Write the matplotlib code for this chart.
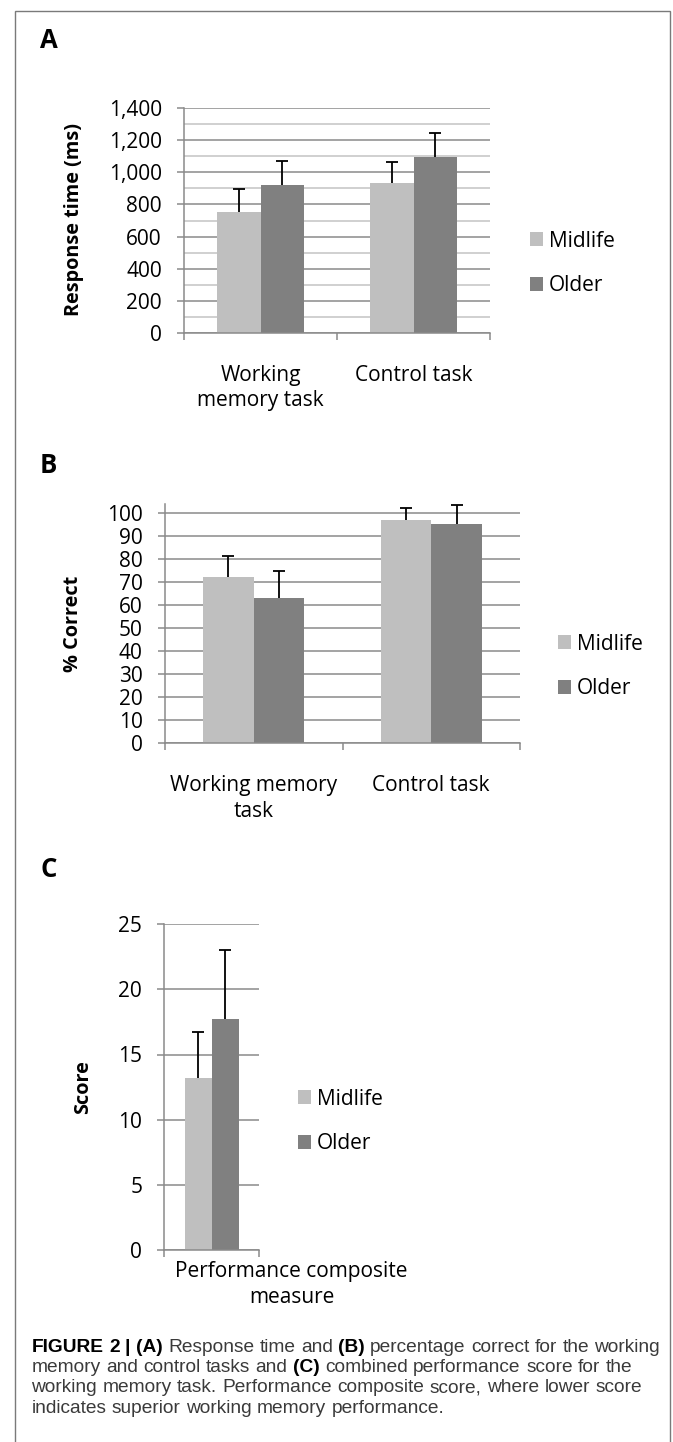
"""
Figure 2 re-draw: response time, % correct and composite score,
midlife vs older adults, as three Excel-style grouped bar panels.
"""

import numpy as np
import matplotlib
matplotlib.use("Agg")
import matplotlib.pyplot as plt
from matplotlib import font_manager
from matplotlib.patches import Rectangle
from matplotlib.ticker import MultipleLocator, FixedLocator, StrMethodFormatter
from matplotlib.transforms import ScaledTranslation

# ---- data ----
groups = ["Midlife", "Older"]

rt_tasks = ["Working\nmemory task", "Control task"]
rt_midlife = [755, 930]
rt_older = [920, 1095]
rt_midlife_err = [140, 136]
rt_older_err = [148, 151]

pc_tasks = ["Working memory\ntask", "Control task"]
pc_midlife = [72.2, 97.0]
pc_older = [63.1, 95.2]
pc_midlife_err = [8.9, 4.9]
pc_older_err = [11.6, 8.3]

sc_tasks = ["Performance composite\nmeasure"]
sc_midlife = [13.2]
sc_older = [17.75]
sc_midlife_err = [3.5]
sc_older_err = [5.25]

caption = [
    [("FIGURE 2 | (A)", True), ("Response time and", False), ("(B)", True),
     ("percentage correct for the working", False)],
    [("memory and control tasks and", False), ("(C)", True),
     ("combined performance score for the", False)],
    [("working memory task. Performance composite score, where lower score", False)],
    [("indicates superior working memory performance.", False)],
]

# ---- style ----
W, H = 673, 1442
MID_C, OLD_C = "#bfbfbf", "#808080"
GRID_C, MINOR_C = "#8a8a8a", "#c4c4c4"
FONT = "Open Sans"
TICK_FS = 15
plt.rcParams["font.family"] = [FONT, "DejaVu Sans"]


def has_font(name):
    try:
        font_manager.findfont(name, fallback_to_default=False)
        return True
    except Exception:
        return False


CAP_FONT = "Liberation Sans Narrow" if has_font("Liberation Sans Narrow") else "Liberation Sans"

fig = plt.figure(figsize=(W / 100, H / 100), dpi=100)


def fx(px):
    return px / W


def fy(py):
    return 1 - py / H


def add_bars(ax, xs, vals, errs, color, label, width):
    bars = ax.bar(xs, vals, width, color=color, label=label, zorder=2)
    # upper-only error bars with a single cap, like the Excel original
    tops = np.asarray(vals) + np.asarray(errs)
    ax.errorbar(xs, vals, yerr=[np.zeros(len(vals)), errs], fmt="none",
                ecolor="black", elinewidth=1.3, capsize=0, zorder=3)
    ax.plot(xs, tops, ls="none", marker="_", markersize=8, mew=1.3,
            color="black", zorder=3)
    return bars


def panel(rect, cats, mid, old, mid_err, old_err, ylim, major, minor=None,
          fmt=None, ylabel="", ylab_xy=(0, 0), leg_xy=(0, 0), lab_pad=16,
          lab_shift=0, width=0.285):
    left, top, right, bottom = rect
    ax = fig.add_axes([fx(left), fy(bottom), (right - left) / W, (bottom - top) / H])
    x = np.arange(len(cats))
    b1 = add_bars(ax, x - width / 2, mid, mid_err, MID_C, groups[0], width)
    b2 = add_bars(ax, x + width / 2, old, old_err, OLD_C, groups[1], width)
    ax.set_xlim(-0.5, len(cats) - 0.5)
    ax.set_ylim(*ylim)
    ax.set_axisbelow(True)
    ax.yaxis.set_major_locator(MultipleLocator(major))
    if minor:
        ax.yaxis.set_minor_locator(MultipleLocator(minor))
        ax.grid(axis="y", which="minor", color=MINOR_C, lw=1.1)
        ax.tick_params(axis="y", which="minor", length=0)
    if fmt:
        ax.yaxis.set_major_formatter(StrMethodFormatter(fmt))
    ax.grid(axis="y", which="major", color=GRID_C, lw=1.1)
    ax.set_yticks([t for t in ax.get_yticks() if t <= ylim[1]])
    ax.set_ylim(*ylim)
    for s in ("top", "right"):
        ax.spines[s].set_visible(False)
    for s in ("left", "bottom"):
        ax.spines[s].set_color(GRID_C)
        ax.spines[s].set_linewidth(1.1)
    ax.tick_params(axis="y", which="major", length=5, width=1.1, color=GRID_C,
                   pad=11, labelsize=TICK_FS)
    ax.set_xticks(x)
    ax.set_xticklabels(cats, fontsize=TICK_FS, linespacing=1.3)
    ax.tick_params(axis="x", which="major", length=0, pad=lab_pad)
    ax.xaxis.set_minor_locator(FixedLocator(np.arange(len(cats) + 1) - 0.5))
    ax.tick_params(axis="x", which="minor", length=5, width=1.1, color=GRID_C)
    if lab_shift:
        off = ScaledTranslation(lab_shift / 100, 0, fig.dpi_scale_trans)
        for t in ax.get_xticklabels():
            t.set_transform(t.get_transform() + off)
    ax.set_ylabel(ylabel, fontsize=14.3, fontweight="bold", va="center")
    ax.yaxis.set_label_coords(fx(ylab_xy[0]), fy(ylab_xy[1]), transform=fig.transFigure)
    ax.legend(handles=[b1, b2], loc="center left", bbox_to_anchor=(fx(leg_xy[0]), fy(leg_xy[1])),
              bbox_transform=fig.transFigure, frameon=False, fontsize=TICK_FS,
              borderpad=0, borderaxespad=0, handlelength=0.62, handleheight=0.62,
              handletextpad=0.3, labelspacing=1.15)
    return ax


# panel A
panel((184, 107.7, 490, 333.3), rt_tasks, rt_midlife, rt_older, rt_midlife_err, rt_older_err,
      (0, 1400), 200, minor=100, fmt="{x:,.0f}", ylabel="Response time (ms)",
      ylab_xy=(74.5, 220), leg_xy=(530, 263.5), lab_pad=22.5)
# panel B
panel((165, 504.3, 520, 743.3), pc_tasks, pc_midlife, pc_older, pc_midlife_err, pc_older_err,
      (0, 103.6), 10, ylabel="% Correct", ylab_xy=(73, 623.5), leg_xy=(558, 666.5), lab_pad=23)
# panel C
panel((164.4, 924.3, 259, 1249.8), sc_tasks, sc_midlife, sc_older, sc_midlife_err, sc_older_err,
      (0, 25), 5, ylabel="Score", ylab_xy=(83.5, 1087.5), leg_xy=(298, 1121.5), lab_pad=8,
      lab_shift=80)

# panel letters
for letter, (px, py) in zip("ABC", [(49, 40), (48, 465), (48.5, 870)]):
    fig.text(fx(px), fy(py), letter, fontsize=18.5, fontweight="bold", ha="center", va="center")

# outer frame
fig.patches.append(Rectangle((fx(15), fy(H + 5)), fx(670) - fx(15), fy(11) - fy(H + 5),
                             transform=fig.transFigure, fill=False, edgecolor="#7a7a7a",
                             lw=1.0, figure=fig))

# caption: words placed one by one so bold pieces can sit inline
renderer = fig.canvas.get_renderer()


def word_w(s, bold, size):
    t = fig.text(0, 0, s, fontsize=size, family=CAP_FONT,
                 fontweight="bold" if bold else "normal")
    w = t.get_window_extent(renderer).width
    t.remove()
    return w


def line_width(line, size):
    words = [(w, b) for seg, b in line for w in seg.split()]
    sp = word_w("a a", False, size) - word_w("aa", False, size)
    return sum(word_w(w, b, size) for w, b in words) + sp * (len(words) - 1)


cap_fs = 10 * 631 / line_width(caption[0], 10)
space = word_w("a a", False, cap_fs) - word_w("aa", False, cap_fs)
for i, line in enumerate(caption):
    xpos = 31.5
    ypos = 1347 + i * 20.5
    for seg, bold in line:
        for w in seg.split():
            fig.text(fx(xpos), fy(ypos), w, fontsize=cap_fs, family=CAP_FONT,
                     fontweight="bold" if bold else "normal",
                     color="black" if bold else "#3a3a3a", va="center", ha="left")
            xpos += word_w(w, bold, cap_fs) + space

fig.savefig("out.png", dpi=100)
print("Saved out.png")
